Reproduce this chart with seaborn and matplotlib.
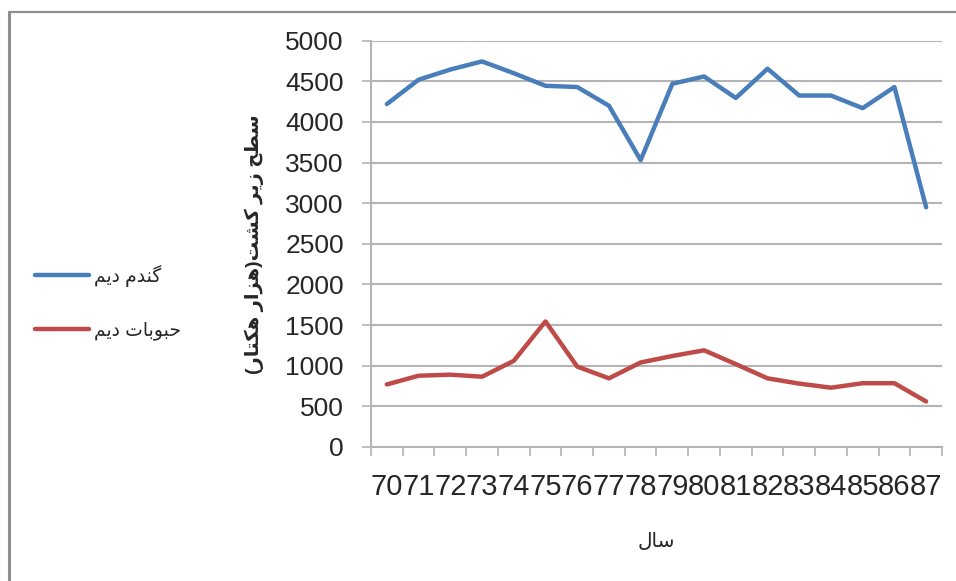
import numpy as np
import pandas as pd
import matplotlib
matplotlib.use("Agg")
import matplotlib.pyplot as plt
from matplotlib.lines import Line2D
from matplotlib.ticker import FixedLocator, FixedFormatter, NullFormatter
import seaborn as sns

# --- data ---
years = ['70', '71', '72', '73', '74', '75', '76', '77', '78',
         '79', '80', '81', '82', '83', '84', '85', '86', '87']
wheat = [4220, 4520, 4645, 4745, 4600, 4445, 4430, 4200, 3530,
         4470, 4560, 4295, 4655, 4325, 4325, 4170, 4430, 2950]
pulses = [770, 877, 890, 865, 1060, 1545, 990, 845, 1040,
          1120, 1190, 1020, 845, 780, 730, 785, 785, 560]
y_ticks = list(range(0, 5001, 500))

label_wheat = 'گندم دیم'
label_pulses = 'حبوبات دیم'
x_title = 'سال'
y_title = 'سطح زیر کشت(هزار هکتار)'

BLUE = '#4a7ebb'
RED = '#be4b48'
GRID = '#b4b4b4'

# matplotlib 3.10 has no Arabic shaping, so do the joining forms by hand
# (iso, fin, ini, med); right-joining letters have no ini/med
FORMS = {
    'ا': ('\uFE8D', '\uFE8E', None, None),
    'ب': ('\uFE8F', '\uFE90', '\uFE91', '\uFE92'),
    'ت': ('\uFE95', '\uFE96', '\uFE97', '\uFE98'),
    'ح': ('\uFEA1', '\uFEA2', '\uFEA3', '\uFEA4'),
    'د': ('\uFEA9', '\uFEAA', None, None),
    'ر': ('\uFEAD', '\uFEAE', None, None),
    'ز': ('\uFEAF', '\uFEB0', None, None),
    'س': ('\uFEB1', '\uFEB2', '\uFEB3', '\uFEB4'),
    'ش': ('\uFEB5', '\uFEB6', '\uFEB7', '\uFEB8'),
    'ط': ('\uFEC1', '\uFEC2', '\uFEC3', '\uFEC4'),
    'ل': ('\uFEDD', '\uFEDE', '\uFEDF', '\uFEE0'),
    'م': ('\uFEE1', '\uFEE2', '\uFEE3', '\uFEE4'),
    'ن': ('\uFEE5', '\uFEE6', '\uFEE7', '\uFEE8'),
    'ه': ('\uFEE9', '\uFEEA', '\uFEEB', '\uFEEC'),
    'و': ('\uFEED', '\uFEEE', None, None),
    'ک': ('\uFB8E', '\uFB8F', '\uFB90', '\uFB91'),
    'گ': ('\uFB92', '\uFB93', '\uFB94', '\uFB95'),
    'ی': ('\uFBFC', '\uFBFD', '\uFBFE', '\uFBFF'),
    'لا': ('\uFEFB', '\uFEFC', None, None),
}
MIRROR = {'(': ')', ')': '('}


def shape(text):
    units = []
    i = 0
    while i < len(text):
        if text[i:i + 2] == 'لا':
            units.append('لا')
            i += 2
        else:
            units.append(text[i])
            i += 1
    out = []
    for k, u in enumerate(units):
        if u not in FORMS:
            out.append(MIRROR.get(u, u))
            continue
        prev = units[k - 1] if k > 0 else None
        nxt = units[k + 1] if k + 1 < len(units) else None
        join_r = prev in FORMS and FORMS[prev][2] is not None
        join_l = FORMS[u][2] is not None and nxt in FORMS
        iso, fin, ini, med = FORMS[u]
        if join_r and join_l:
            out.append(med)
        elif join_r:
            out.append(fin)
        elif join_l:
            out.append(ini)
        else:
            out.append(iso)
    return ''.join(out[::-1])


df = pd.DataFrame({
    'year': years * 2,
    'area': wheat + pulses,
    'crop': [shape(label_wheat)] * len(years) + [shape(label_pulses)] * len(years),
})

sns.set_style("white")
plt.rcParams['font.family'] = ['Liberation Sans', 'DejaVu Sans']

fig = plt.figure(figsize=(9.56, 5.81), dpi=100)
ax = fig.add_axes([371 / 956, 1 - 447 / 581, 571 / 956, 406.3 / 581])

sns.lineplot(data=df, x='year', y='area', hue='crop', palette=[BLUE, RED],
             linewidth=3.2, sort=False, ax=ax, legend=False)

n = len(years)
ax.set_xlim(-0.5, n - 0.5)
ax.set_ylim(0, 5000)
ax.set_yticks(y_ticks)
ax.yaxis.grid(True, color=GRID, linewidth=1.5)
ax.xaxis.grid(False)

ax.xaxis.set_major_locator(FixedLocator(np.arange(-0.5, n, 1.0)))
ax.xaxis.set_major_formatter(NullFormatter())
ax.xaxis.set_minor_locator(FixedLocator(np.arange(n)))
ax.xaxis.set_minor_formatter(FixedFormatter(years))
ax.tick_params(axis='x', which='major', direction='out', length=6.5, width=1.2,
               color=GRID, bottom=True)
ax.tick_params(axis='x', which='minor', length=0, pad=19, labelsize=21,
               bottom=True)
ax.tick_params(axis='y', direction='out', length=6.5, width=1.2, color=GRID,
               pad=13, labelsize=19, left=True)

for side in ['top', 'right']:
    ax.spines[side].set_visible(False)
for side in ['left', 'bottom']:
    ax.spines[side].set_color(GRID)
    ax.spines[side].set_linewidth(1.5)

ax.set_xlabel(shape(x_title), fontsize=14.5, labelpad=22)
ax.set_ylabel(shape(y_title), fontsize=14, fontweight='bold', labelpad=15)

handles = [Line2D([], [], color=BLUE, lw=3.2), Line2D([], [], color=RED, lw=3.2)]
ax.legend(handles, [shape(label_wheat), shape(label_pulses)],
          loc='upper left', bbox_to_anchor=(35 / 956, 1 - 265 / 581),
          bbox_transform=fig.transFigure, frameon=False, fontsize=13.5,
          handlelength=2.9, handletextpad=0.25, labelspacing=1.85,
          borderpad=0, borderaxespad=0)

# outer frame like the pasted chart object
fig.add_artist(Line2D([9 / 956, 9 / 956], [0, 1 - 11.5 / 581],
                      transform=fig.transFigure, color='#8f8f8f', lw=2.2))
fig.add_artist(Line2D([9 / 956, 1], [1 - 11.5 / 581, 1 - 11.5 / 581],
                      transform=fig.transFigure, color='#8f8f8f', lw=1.6))

fig.savefig("out.png", dpi=100)
